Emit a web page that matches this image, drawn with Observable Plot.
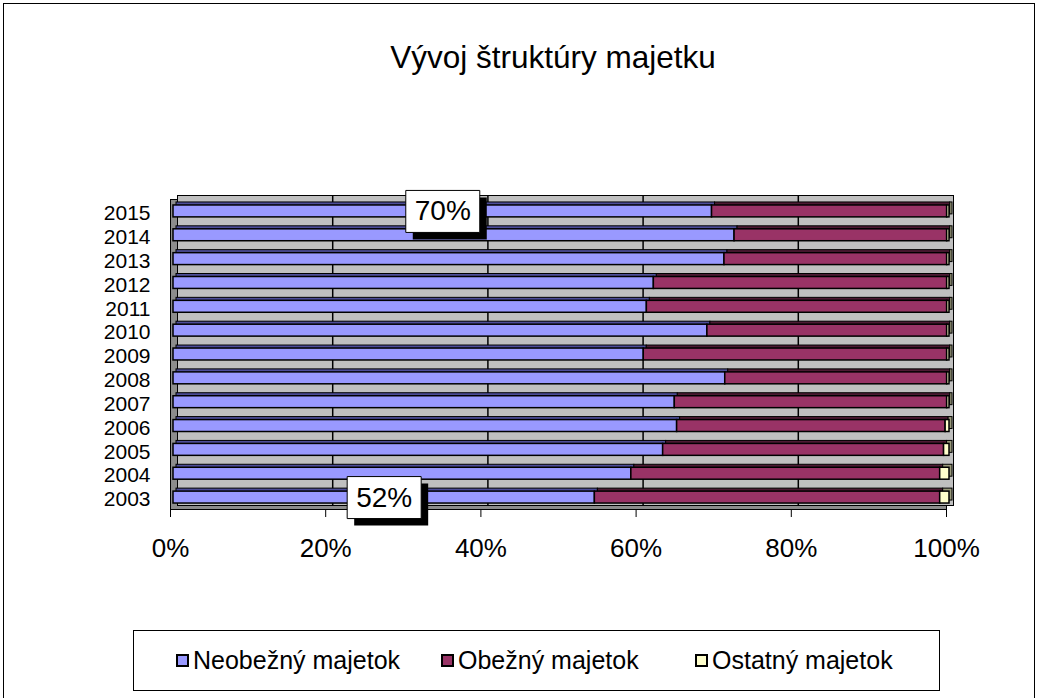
<!DOCTYPE html>
<html><head><meta charset="utf-8">
<script src="https://cdn.jsdelivr.net/npm/d3@7"></script>
<script src="https://cdn.jsdelivr.net/npm/@observablehq/plot@0.6"></script>
<style>
body{margin:0;background:#fff;font-family:"Liberation Sans",Arial,sans-serif;}
#wrap{position:relative;width:1038px;height:698px;overflow:hidden;background:#fff;}
#border{position:absolute;left:3px;top:3px;width:1030px;height:700px;border:1px solid #000;}
#title{position:absolute;left:0;width:1106px;top:39px;text-align:center;font-size:31.5px;color:#000;}
#chart{position:absolute;left:0;top:0;}
#legend{position:absolute;left:133px;top:630px;width:805px;height:59px;border:1px solid #000;background:#fff;}
.item{position:absolute;top:15px;font-size:25px;display:flex;align-items:center;white-space:nowrap;color:#000;}
.sw{width:9px;height:9px;border:2px solid #000;margin-right:4px;}
</style>
</head><body>
<div id="wrap">
  <div id="border"></div>
  <div id="title">Vývoj štruktúry majetku</div>
  <div id="chart"></div>
  <div id="legend"></div>
</div>
<script>
const years = ["2015","2014","2013","2012","2011","2010","2009","2008","2007","2006","2005","2004","2003"];
const seriesNames = ["Neobežný majetok","Obežný majetok","Ostatný majetok"];
const seriesColors = ["#9999FF","#993366","#FFFFCC"];
const seriesDark = ["#4d4d99","#4d1a33","#99997a"];
const neobezny = [69.4,72.3,71.0,61.9,61.0,68.8,60.6,71.1,64.6,64.9,63.1,59.0,54.3];
const obezny   = [30.3,27.4,28.7,37.8,38.7,30.9,39.1,28.6,35.1,34.6,36.2,39.8,44.5];
const ostatny  = [0.3,0.3,0.3,0.3,0.3,0.3,0.3,0.3,0.3,0.5,0.7,1.2,1.2];
const labelYears = ["2015","2003"];
const labelTexts = ["70%","52%"];
const xTicks = [0,20,40,60,80,100];

const seriesValues = [neobezny, obezny, ostatny];
const rows = [];
seriesNames.forEach((s, si) => {
  years.forEach((y, yi) => {
    const li = si === 0 ? labelYears.indexOf(y) : -1;
    rows.push({year: y, series: s, value: seriesValues[si][yi], label: li >= 0 ? labelTexts[li] : null});
  });
});

const boxSymbol = {draw(ctx){ ctx.rect(-37, -21, 74, 42); }};
const fontFamily = "'Liberation Sans', Arial, sans-serif";

const chart = Plot.plot({
  width: 1038,
  height: 698,
  marginLeft: 173,
  marginRight: 89,
  marginTop: 199,
  marginBottom: 189,
  style: {fontFamily, background: "transparent", color: "#000"},
  x: {domain: [0, 100]},
  y: {domain: years, paddingInner: 0.5, paddingOuter: 0.25, round: false},
  color: {domain: seriesNames, range: seriesColors},
  marks: [
    Plot.frame({fill: "#8c8c8c", stroke: "#000", strokeWidth: 1, dx: -3}),
    Plot.frame({fill: "#c0c0c0", stroke: "#000", strokeWidth: 1, dx: 4, dy: -4}),
    Plot.ruleX(xTicks.slice(1, -1), {dx: 4, dy: -4, stroke: "#000", strokeWidth: 1.5}),
    Plot.barX(rows, Plot.stackX({x: "value", y: "year", z: "series",
      fill: d => seriesDark[seriesNames.indexOf(d.series)], stroke: "#000", strokeWidth: 1, dx: 3, dy: -3})),
    Plot.barX(rows, Plot.stackX({x: "value", y: "year", z: "series", fill: "series", stroke: "#000", strokeWidth: 1.5})),
    Plot.axisX({ticks: xTicks, tickFormat: d => d + "%", tickSize: 8, tickPadding: 21, fontSize: 26, dx: -3, stroke: "#000", label: null}),
    Plot.axisY({tickSize: 0, tickPadding: 23, fontSize: 21, dy: 2, label: null}),
    Plot.dot(rows, Plot.stackX({x: "value", y: "year", z: "series", filter: d => d.label, symbol: boxSymbol, fill: "#000", stroke: "none", dx: 7, dy: 7})),
    Plot.dot(rows, Plot.stackX({x: "value", y: "year", z: "series", filter: d => d.label, symbol: boxSymbol, fill: "#fff", stroke: "#000", strokeWidth: 1})),
    Plot.text(rows, Plot.stackX({x: "value", y: "year", z: "series", filter: d => d.label, text: "label", fontSize: 28, fill: "#000"}))
  ]
});
document.getElementById("chart").appendChild(chart);

const legendPos = [42, 307, 561];
const legend = document.getElementById("legend");
seriesNames.forEach((s, i) => {
  const it = document.createElement("div");
  it.className = "item";
  it.style.left = legendPos[i] + "px";
  const sw = document.createElement("span");
  sw.className = "sw";
  sw.style.background = seriesColors[i];
  it.appendChild(sw);
  it.appendChild(document.createTextNode(s));
  legend.appendChild(it);
});
</script>
</body></html>
